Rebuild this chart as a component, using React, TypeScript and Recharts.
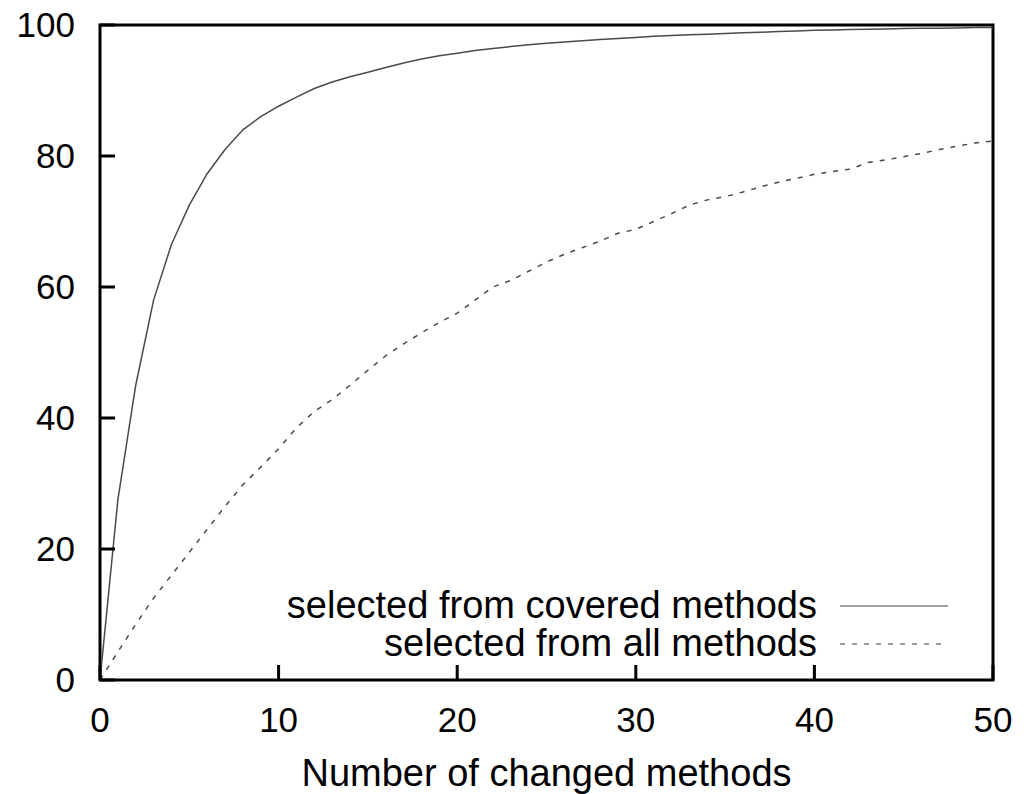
import React from "react";
import { LineChart, Line, XAxis, YAxis, ReferenceArea, Legend, Label } from "recharts";

const changedMethods = [
  0, 1, 2, 3, 4, 5, 6, 7, 8, 9, 10, 11, 12, 13, 14, 15, 16, 17, 18, 19, 20, 21, 22, 23, 24, 25,
  26, 27, 28, 29, 30, 31, 32, 33, 34, 35, 36, 37, 38, 39, 40, 41, 42, 43, 44, 45, 46, 47, 48, 49, 50,
];
const fromCovered = [
  0, 27.5, 45, 58, 66.5, 72.5, 77.3, 81, 84, 86, 87.6, 89, 90.3, 91.3, 92.1, 92.8, 93.5, 94.2, 94.8,
  95.3, 95.7, 96.1, 96.4, 96.7, 97, 97.2, 97.4, 97.6, 97.8, 97.95, 98.1, 98.3, 98.4, 98.5, 98.6, 98.7,
  98.8, 98.9, 99.0, 99.1, 99.2, 99.25, 99.3, 99.35, 99.4, 99.45, 99.5, 99.5, 99.55, 99.6, 99.6,
];
const fromAll = [
  0, 4.3, 8.5, 12.5, 16, 19.5, 23, 26.5, 29.8, 32.5, 35.3, 38.5, 41, 42.8, 45, 47.3, 49.5, 51.3, 53,
  54.6, 56, 58, 60, 61, 62.4, 63.8, 65, 66, 67, 68.2, 68.8, 70, 71.2, 72.5, 73.3, 73.8, 74.5, 75.3,
  76, 76.6, 77.2, 77.6, 78, 79, 79.4, 79.9, 80.4, 81, 81.5, 82, 82.3,
];
const xTicks = [0, 10, 20, 30, 40, 50];
const yTicks = [0, 20, 40, 60, 80, 100];
const seriesNames = ["selected from covered methods", "selected from all methods"];

const data = changedMethods.map((x, i) => ({ x, covered: fromCovered[i], all: fromAll[i] }));

const FONT = "'Liberation Sans', Arial, Helvetica, sans-serif";
const LINE_COLOR = "#4a4a4a";

const renderLegend = (props: any) => {
  const payload = [...(props.payload || [])].sort(
    (a: any, b: any) => seriesNames.indexOf(a.value) - seriesNames.indexOf(b.value)
  );
  return (
    <svg width={720} height={90} style={{ display: "block", overflow: "visible" }}>
      {payload.map((entry: any, i: number) => {
        const dashed = entry.value === seriesNames[1];
        return (
          <g key={i}>
            <text
              x={559}
              y={40 + i * 38}
              textAnchor="end"
              fontSize={38}
              fontFamily={FONT}
              fill="#000"
            >
              {entry.value}
            </text>
            <line
              x1={582}
              x2={690}
              y1={28 + i * 38}
              y2={28 + i * 38}
              stroke="#808080"
              strokeWidth={1.5}
              strokeDasharray={dashed ? "5 7" : undefined}
            />
          </g>
        );
      })}
    </svg>
  );
};

export default function App() {
  return (
    <div style={{ fontFamily: FONT, marginTop: -8 }}>
      <LineChart
        width={1020}
        height={794}
        data={data}
        margin={{ top: 24, right: 34, bottom: 0, left: 0 }}
        style={{ fontFamily: FONT }}
      >
        <XAxis
          xAxisId="b"
          dataKey="x"
          type="number"
          domain={[0, 50]}
          ticks={xTicks}
          height={114}
          axisLine={false}
          tickSize={-15}
          tickMargin={42}
          tickLine={{ stroke: "#000", strokeWidth: 3 }}
          tick={{ fill: "#000", fontSize: 35, fontFamily: FONT }}
          interval={0}
        >
          <Label
            value="Number of changed methods"
            position="insideBottom"
            offset={8}
            style={{ fill: "#000", fontSize: 38, fontFamily: FONT }}
          />
        </XAxis>
        <XAxis
          xAxisId="t"
          dataKey="x"
          type="number"
          orientation="top"
          domain={[0, 50]}
          ticks={xTicks}
          height={1}
          axisLine={false}
          tickSize={-15}
          tickLine={{ stroke: "#000", strokeWidth: 3 }}
          tick={false}
        />
        <YAxis
          yAxisId="l"
          type="number"
          domain={[0, 100]}
          ticks={yTicks}
          width={92}
          axisLine={false}
          tickSize={-15}
          tickMargin={40}
          tickLine={{ stroke: "#000", strokeWidth: 3 }}
          tick={{ fill: "#000", fontSize: 35, fontFamily: FONT }}
          interval={0}
        />
        <YAxis
          yAxisId="r"
          type="number"
          orientation="right"
          domain={[0, 100]}
          ticks={yTicks}
          width={1}
          axisLine={false}
          tickSize={-15}
          tickLine={{ stroke: "#000", strokeWidth: 3 }}
          tick={false}
        />
        <Line
          xAxisId="b"
          yAxisId="l"
          type="linear"
          dataKey="covered"
          name={seriesNames[0]}
          stroke={LINE_COLOR}
          strokeWidth={1.5}
          dot={false}
          activeDot={false}
          isAnimationActive={false}
        />
        <Line
          xAxisId="b"
          yAxisId="l"
          type="linear"
          dataKey="all"
          name={seriesNames[1]}
          stroke={LINE_COLOR}
          strokeWidth={1.5}
          strokeDasharray="5 7"
          dot={false}
          activeDot={false}
          isAnimationActive={false}
        />
        <ReferenceArea
          xAxisId="b"
          yAxisId="l"
          x1={0}
          x2={50}
          y1={0}
          y2={100}
          fill="none"
          stroke="#000"
          strokeWidth={3}
          ifOverflow="visible"
        />
        <Legend
          layout="vertical"
          align="center"
          verticalAlign="middle"
          content={renderLegend}
          wrapperStyle={{ left: 250, top: 578, width: 720, height: 90 }}
        />
      </LineChart>
    </div>
  );
}
